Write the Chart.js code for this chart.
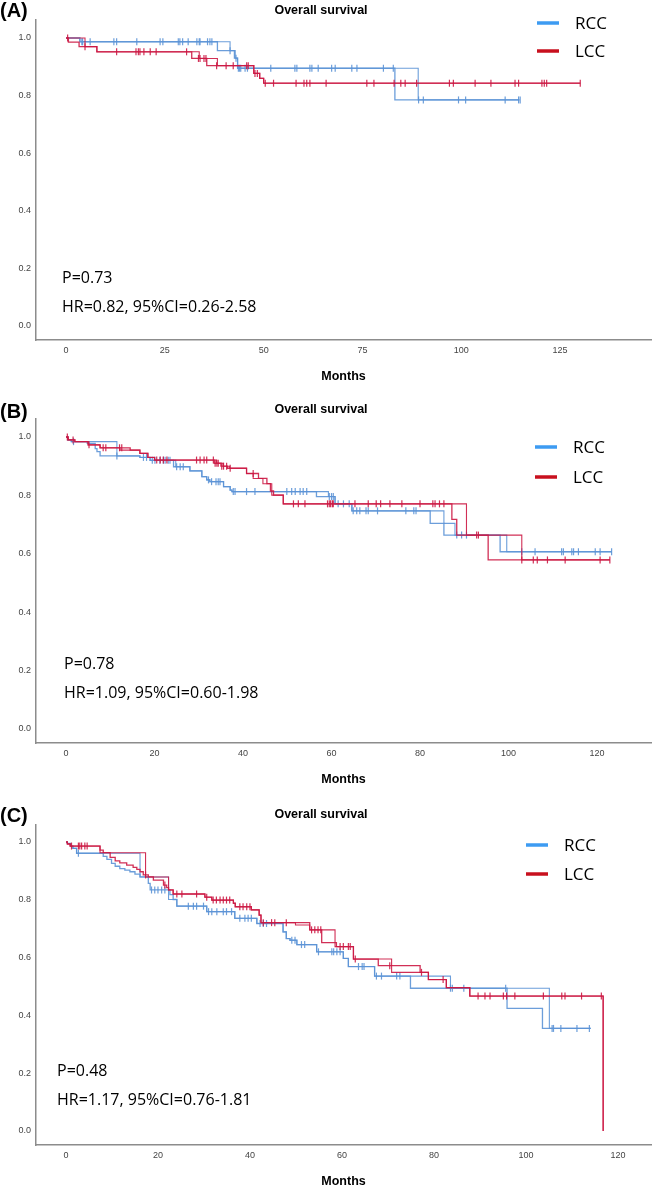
<!DOCTYPE html>
<html>
<head>
<meta charset="utf-8">
<script src="https://cdn.jsdelivr.net/npm/chart.js@4.4.1/dist/chart.umd.min.js"></script>
<style>
  html, body { margin: 0; padding: 0; background: #fff; overflow: hidden; }
  body { width: 657px; height: 1188px; position: relative; }
  canvas { position: absolute; left: 0; }
</style>
</head>
<body>
<canvas id="chartA" width="657" height="384" style="top:0"></canvas>
<canvas id="chartB" width="657" height="403" style="top:384px"></canvas>
<canvas id="chartC" width="657" height="402" style="top:787px"></canvas>
<script>
// shared axis values
const yTicks = [0, 0.2, 0.4, 0.6, 0.8, 1.0];
const aMonthTicks = [0, 25, 50, 75, 100, 125];
const bcMonthTicks = [0, 20, 40, 60, 80, 100, 120];
const groupLabels = ["RCC", "LCC"];

// (A)
const aRccTime = [0, 3.5, 38.3, 42.6, 43.4, 83.2, 114.7];
const aRccSurv = [1.0, 0.987, 0.956, 0.93, 0.895, 0.785, 0.785];
const aRccTime2 = [0, 3.5, 41.5, 42.8, 43.4, 89.1, 114.7];
const aRccSurv2 = [1.0, 0.987, 0.956, 0.93, 0.895, 0.785, 0.785];
const aRccCensor = [4.0, 4.2, 6.1, 12.1, 12.8, 17.9, 23.8, 24.5, 28.4, 28.8, 29.5, 30.9, 33.1, 33.7, 33.9, 35.8, 36.4, 36.9, 41.5, 43.0, 43.6, 43.9, 44.2, 45.3, 45.9, 51.8, 57.9, 58.4, 61.7, 62.2, 63.8, 67.2, 68.1, 72.3, 73.6, 80.3, 82.8, 89.2, 90.4, 99.3, 101.1, 111.1, 114.5, 114.9];
const aLccTime = [0, 0.6, 3.3, 7.8, 31.8, 35.6, 47.5, 49.0, 50.0, 130.1];
const aLccSurv = [1.0, 0.986, 0.97, 0.952, 0.929, 0.904, 0.877, 0.86, 0.843, 0.843];
const aLccTime2 = [0, 4.8, 7.8, 33.7, 38.3, 47.5, 49.0, 50.0, 130.1];
const aLccSurv2 = [1.0, 0.97, 0.952, 0.929, 0.904, 0.877, 0.86, 0.843, 0.843];
const aLccCensor = [0.4, 4.8, 12.8, 17.7, 18.3, 18.7, 19.7, 21.3, 22.8, 30.5, 33.5, 33.9, 34.9, 35.4, 38.1, 40.5, 42.3, 45.7, 46.1, 47.8, 48.4, 50.4, 52.5, 58.2, 60.2, 60.9, 61.7, 65.8, 76.1, 77.9, 83.0, 84.7, 85.8, 88.7, 97.0, 98.0, 103.5, 107.5, 113.6, 114.5, 120.4, 121.0, 121.6, 130.1];
const aStats = ["P=0.73", "HR=0.82, 95%CI=0.26-2.58"];

// (B)
const bRccTime = [0, 0.4, 1.2, 4.8, 6.6, 7.0, 7.7, 16.7, 19.0, 24.3, 28.0, 30.7, 31.8, 32.5, 35.6, 37.1, 37.5, 56.6, 60.8, 64.6, 82.3, 85.4, 98.1, 123.3];
const bRccSurv = [1.0, 0.99, 0.984, 0.978, 0.96, 0.95, 0.935, 0.93, 0.92, 0.898, 0.884, 0.864, 0.853, 0.847, 0.83, 0.818, 0.813, 0.796, 0.771, 0.747, 0.704, 0.664, 0.607, 0.607];
const bRccTime2 = [0, 0.4, 1.2, 11.5, 16.7, 19.0, 24.8, 28.0, 30.7, 31.8, 32.5, 35.6, 37.1, 37.5, 59.3, 60.8, 64.6, 85.4, 87.9, 99.6, 123.3];
const bRccSurv2 = [1.0, 0.99, 0.984, 0.935, 0.93, 0.92, 0.898, 0.884, 0.864, 0.853, 0.847, 0.83, 0.818, 0.813, 0.796, 0.771, 0.747, 0.704, 0.664, 0.607, 0.607];
const bRccCensor = [1.7, 11.5, 17.5, 18.2, 19.5, 20.1, 21.2, 22.0, 22.4, 23.1, 23.5, 25.0, 25.8, 26.5, 32.2, 32.9, 33.9, 34.4, 34.8, 37.8, 38.2, 40.8, 42.7, 49.9, 51.0, 51.8, 52.9, 53.6, 54.4, 59.5, 60.0, 60.4, 61.5, 62.7, 64.0, 64.9, 65.7, 66.4, 67.8, 68.3, 70.4, 76.8, 78.6, 79.1, 88.3, 89.4, 90.5, 103.0, 106.0, 112.0, 112.4, 114.3, 114.7, 115.8, 119.6, 120.7, 123.3];
const bLccTime = [0, 0.5, 2.0, 5.0, 7.7, 14.5, 16.7, 18.5, 20.0, 33.5, 35.0, 36.5, 40.8, 43.5, 45.4, 46.2, 46.9, 49.1, 87.2, 88.3, 95.4, 122.9];
const bLccSurv = [1.0, 0.99, 0.984, 0.973, 0.963, 0.955, 0.944, 0.93, 0.921, 0.91, 0.90, 0.893, 0.875, 0.858, 0.84, 0.815, 0.801, 0.771, 0.718, 0.664, 0.579, 0.579];
const bLccTime2 = [0, 0.5, 2.0, 5.0, 7.7, 12.2, 16.7, 18.5, 20.0, 34.0, 35.5, 37.0, 40.8, 42.3, 44.5, 46.5, 49.1, 90.5, 103.0, 122.9];
const bLccSurv2 = [1.0, 0.99, 0.984, 0.973, 0.963, 0.955, 0.944, 0.93, 0.921, 0.91, 0.90, 0.893, 0.875, 0.858, 0.84, 0.801, 0.771, 0.664, 0.579, 0.579];
const bLccCensor = [0.3, 1.6, 5.2, 8.4, 9.0, 12.1, 12.6, 20.5, 21.3, 22.0, 22.8, 29.5, 30.3, 31.2, 31.8, 33.3, 33.7, 34.1, 34.4, 35.2, 35.6, 36.3, 37.1, 42.3, 51.4, 52.5, 54.0, 59.1, 59.5, 59.8, 60.2, 60.4, 65.3, 68.3, 70.1, 71.1, 73.2, 75.9, 80.0, 82.9, 83.4, 84.4, 85.4, 92.8, 93.2, 103.0, 105.6, 106.5, 108.8, 112.8, 120.7, 122.9];
const bStats = ["P=0.78", "HR=1.09, 95%CI=0.60-1.98"];

// (C)
const cRccTime = [0, 0.3, 1.0, 1.5, 2.3, 8.1, 8.9, 9.9, 10.7, 11.7, 12.8, 13.9, 15.0, 16.1, 17.9, 18.3, 22.6, 23.3, 24.1, 30.6, 36.7, 41.5, 47.2, 47.9, 48.7, 50.2, 54.5, 60.3, 61.4, 67.1, 74.9, 95.9, 103.6, 114.1];
const cRccSurv = [1.0, 0.995, 0.986, 0.978, 0.961, 0.95, 0.94, 0.926, 0.916, 0.908, 0.903, 0.897, 0.889, 0.879, 0.857, 0.834, 0.818, 0.801, 0.778, 0.759, 0.736, 0.718, 0.689, 0.666, 0.66, 0.645, 0.62, 0.597, 0.569, 0.536, 0.494, 0.424, 0.355, 0.355];
const cRccTime2 = [0, 0.3, 1.0, 1.5, 2.3, 16.1, 22.3, 24.1, 30.6, 36.7, 41.5, 47.2, 47.9, 48.7, 50.2, 54.5, 60.3, 61.4, 67.1, 83.6, 105.1, 114.1];
const cRccSurv2 = [1.0, 0.995, 0.986, 0.978, 0.961, 0.879, 0.801, 0.778, 0.759, 0.736, 0.718, 0.689, 0.666, 0.66, 0.645, 0.62, 0.597, 0.569, 0.536, 0.494, 0.355, 0.355];
const cRccCensor = [2.7, 18.6, 19.3, 20.0, 20.8, 21.5, 26.6, 27.7, 28.4, 29.9, 31.0, 31.7, 32.8, 34.2, 34.9, 36.0, 37.8, 38.9, 39.6, 40.3, 42.2, 42.9, 43.6, 49.1, 49.8, 51.2, 51.9, 54.9, 57.8, 58.2, 58.9, 59.6, 63.6, 64.4, 64.8, 67.5, 68.6, 71.9, 72.6, 83.6, 84.0, 86.5, 95.6, 105.7, 106.0, 107.6, 111.1, 113.8];
const cLccTime = [0, 0.3, 0.9, 7.4, 8.1, 9.6, 10.7, 11.7, 13.2, 14.6, 15.4, 16.1, 16.8, 17.9, 19.0, 21.2, 21.9, 22.3, 23.3, 30.2, 31.7, 36.4, 36.8, 40.3, 42.0, 42.4, 53.0, 55.6, 58.8, 62.5, 67.9, 77.0, 78.8, 82.7, 87.8, 116.8];
const cLccSurv = [1.0, 0.993, 0.986, 0.972, 0.963, 0.947, 0.935, 0.928, 0.92, 0.912, 0.905, 0.897, 0.886, 0.879, 0.868, 0.851, 0.842, 0.834, 0.82, 0.809, 0.799, 0.788, 0.776, 0.765, 0.747, 0.721, 0.696, 0.652, 0.638, 0.595, 0.572, 0.549, 0.524, 0.496, 0.467, 0];
const cLccTime2 = [0, 0.3, 0.9, 7.4, 17.3, 22.3, 23.3, 30.2, 31.7, 36.4, 36.8, 40.3, 42.0, 42.4, 49.9, 53.0, 58.5, 62.5, 70.8, 78.8, 82.7, 87.8, 116.8];
const cLccSurv2 = [1.0, 0.993, 0.986, 0.963, 0.879, 0.834, 0.82, 0.809, 0.799, 0.788, 0.776, 0.765, 0.747, 0.721, 0.713, 0.696, 0.638, 0.595, 0.549, 0.524, 0.496, 0.467, 0];
const cLccCensor = [1.2, 2.7, 3.0, 3.4, 4.1, 4.6, 17.3, 21.5, 24.1, 25.2, 28.4, 30.6, 32.0, 32.7, 33.5, 34.2, 34.9, 35.6, 37.8, 38.5, 39.3, 40.0, 42.9, 44.7, 45.4, 47.9, 53.4, 54.1, 54.8, 55.4, 59.6, 60.3, 61.4, 61.8, 62.9, 70.4, 77.3, 82.0, 89.6, 91.1, 92.2, 95.1, 95.8, 97.6, 103.8, 107.8, 108.5, 112.1, 116.4];
const cStats = ["P=0.48", "HR=1.17, 95%CI=0.76-1.81"];

const RCC_LINE = "rgba(92,148,214,0.9)";
const LCC_LINE = "rgba(204,24,68,0.9)";
const RCC_KEY = "#3d9bf2";
const LCC_KEY = "#c8101e";

function stepPoints(times, surv) {
  return times.map((t, i) => ({ x: t, y: surv[i] }));
}

// survival value of the step curve at time t (used to sit censor ticks on it)
function survAt(times, surv, t) {
  let s = surv[0];
  for (let i = 0; i < times.length; i++) {
    if (times[i] <= t) s = surv[i];
  }
  return s;
}

function curveSet(label, times, surv, color, width) {
  return {
    label: label,
    data: stepPoints(times, surv),
    borderColor: color,
    borderWidth: width,
    stepped: true,
    pointRadius: 0,
    fill: false,
  };
}

function censorSet(label, times, surv, censor, color) {
  return {
    label: label + " censored",
    data: censor.map((t) => ({ x: t, y: survAt(times, surv, t) })),
    showLine: false,
    pointStyle: "line",
    rotation: 90,
    pointRadius: 3.5,
    borderColor: color,
    borderWidth: 1.2,
  };
}

// panel letter, title, legend and statistics
const panelText = {
  id: "panelText",
  afterDraw(chart, args, o) {
    const ctx = chart.ctx;
    ctx.save();
    ctx.fillStyle = "#000";
    ctx.textBaseline = "middle";

    ctx.textAlign = "left";
    ctx.font = 'bold 20px "Liberation Sans", Arial, sans-serif';
    ctx.fillText(o.letter, 0, o.letterY);

    ctx.textAlign = "center";
    ctx.font = 'bold 12.5px "Liberation Sans", Arial, sans-serif';
    ctx.fillText("Overall survival", 321, o.titleY);

    ctx.textAlign = "left";
    ctx.font = '17px "Open Sans", sans-serif';
    [RCC_KEY, LCC_KEY].forEach((c, i) => {
      const y = o.legendY[i];
      ctx.strokeStyle = c;
      ctx.lineWidth = 3.5;
      ctx.beginPath();
      ctx.moveTo(o.legendX, y);
      ctx.lineTo(o.legendX + 22, y);
      ctx.stroke();
      ctx.fillText(groupLabels[i], o.legendX + 38, y + 1);
    });

    ctx.font = '16px "Open Sans", sans-serif';
    ctx.fillText(o.stats[0], o.statsX, o.statsY[0]);
    ctx.fillText(o.stats[1], o.statsX, o.statsY[1]);
    ctx.restore();
  },
};

function makePanel(id, cfg) {
  const datasets = [
    curveSet(groupLabels[1], cfg.lcc[0], cfg.lcc[1], LCC_LINE, 1.3),
    curveSet(groupLabels[1] + " b", cfg.lcc[2], cfg.lcc[3], LCC_LINE, 1.1),
    censorSet(groupLabels[1], cfg.lcc[0], cfg.lcc[1], cfg.lcc[4], LCC_LINE),
    curveSet(groupLabels[0], cfg.rcc[0], cfg.rcc[1], RCC_LINE, 1.3),
    curveSet(groupLabels[0] + " b", cfg.rcc[2], cfg.rcc[3], RCC_LINE, 1.1),
    censorSet(groupLabels[0], cfg.rcc[0], cfg.rcc[1], cfg.rcc[4], RCC_LINE),
  ];

  new Chart(document.getElementById(id), {
    type: "line",
    data: { datasets: datasets },
    plugins: [panelText],
    options: {
      responsive: false,
      animation: false,
      layout: { padding: { top: cfg.padTop, right: 6, left: 0, bottom: 0 } },
      plugins: {
        legend: { display: false },
        tooltip: { enabled: false },
        panelText: cfg.text,
      },
      scales: {
        x: {
          type: "linear",
          min: cfg.xMin,
          max: cfg.xMax,
          grid: { display: false, drawTicks: false },
          border: { display: true, color: "#8c8c8c", width: 1.5 },
          afterBuildTicks: (s) => { s.ticks = cfg.xTicks.map((v) => ({ value: v })); },
          afterFit: (s) => { s.height = 44; },
          ticks: {
            padding: 5,
            color: "#444",
            font: { family: '"Liberation Sans", Arial, sans-serif', size: 9 },
            callback: (v) => String(v),
          },
          title: {
            display: true,
            text: "Months",
            color: "#000",
            padding: 0,
            font: { family: '"Liberation Sans", Arial, sans-serif', size: 12.5, weight: "bold" },
          },
        },
        y: {
          type: "linear",
          min: cfg.yMin,
          max: cfg.yMax,
          grid: { display: false, drawTicks: false },
          border: { display: true, color: "#8c8c8c", width: 1.5 },
          afterBuildTicks: (s) => { s.ticks = yTicks.map((v) => ({ value: v })); },
          afterFit: (s) => { s.width = 36; },
          ticks: {
            padding: 5,
            color: "#444",
            font: { family: '"Liberation Sans", Arial, sans-serif', size: 9 },
            callback: (v) => v.toFixed(1),
          },
        },
      },
    },
  });
}

makePanel("chartA", {
  padTop: 20, xMin: -7.6, xMax: 148.0, yMin: -0.0486, yMax: 1.0625, xTicks: aMonthTicks,
  rcc: [aRccTime, aRccSurv, aRccTime2, aRccSurv2, aRccCensor],
  lcc: [aLccTime, aLccSurv, aLccTime2, aLccSurv2, aLccCensor],
  text: { letter: "(A)", letterY: 11, titleY: 11, legendX: 537, legendY: [23, 51], stats: aStats, statsX: 62, statsY: [278, 307] },
});

makePanel("chartB", {
  padTop: 35, xMin: -6.78, xMax: 132.2, yMin: -0.048, yMax: 1.0616, xTicks: bcMonthTicks,
  rcc: [bRccTime, bRccSurv, bRccTime2, bRccSurv2, bRccCensor],
  lcc: [bLccTime, bLccSurv, bLccTime2, bLccSurv2, bLccCensor],
  text: { letter: "(B)", letterY: 28, titleY: 26, legendX: 535, legendY: [63, 93], stats: bStats, statsX: 64, statsY: [280, 309] },
});

makePanel("chartC", {
  padTop: 38, xMin: -6.52, xMax: 127.2, yMin: -0.0484, yMax: 1.0588, xTicks: bcMonthTicks,
  rcc: [cRccTime, cRccSurv, cRccTime2, cRccSurv2, cRccCensor],
  lcc: [cLccTime, cLccSurv, cLccTime2, cLccSurv2, cLccCensor],
  text: { letter: "(C)", letterY: 29, titleY: 28, legendX: 526, legendY: [58, 87], stats: cStats, statsX: 57, statsY: [284, 313] },
});
</script>
</body>
</html>
